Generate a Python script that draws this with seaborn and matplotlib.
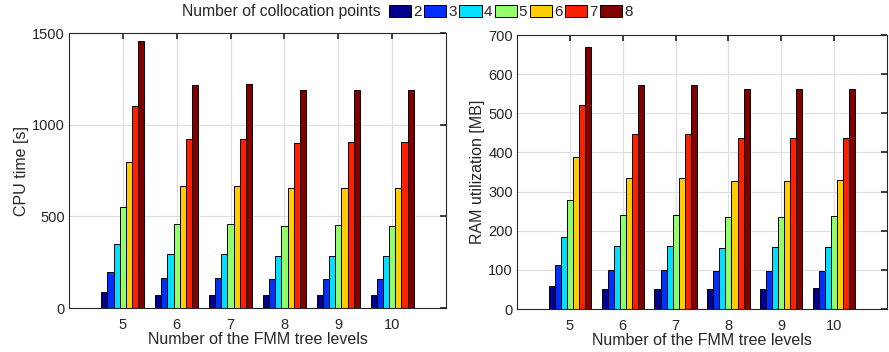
"""
FMM benchmark: CPU time and RAM use vs. number of tree levels,
grouped by number of collocation points.
"""
import numpy as np
import pandas as pd
import matplotlib
matplotlib.use("Agg")
import matplotlib.pyplot as plt
import seaborn as sns

# ── Data ──────────────────────────────────────────────────────────────────────
LEVELS = [5, 6, 7, 8, 9, 10]
POINTS = ["2", "3", "4", "5", "6", "7", "8"]

# rows = collocation points, cols = tree levels
CPU_TIME = [
    [85, 72, 72, 72, 72, 72],
    [194, 161, 161, 158, 158, 160],
    [348, 294, 292, 285, 285, 285],
    [550, 459, 459, 448, 452, 450],
    [798, 667, 668, 653, 653, 653],
    [1101, 920, 920, 898, 904, 905],
    [1457, 1216, 1220, 1190, 1192, 1192],
]
RAM_MB = [
    [59, 52, 52, 51, 51, 53],
    [112, 99, 99, 97, 97, 98],
    [184, 160, 160, 157, 158, 159],
    [279, 239, 240, 235, 236, 237],
    [388, 334, 334, 327, 328, 329],
    [520, 447, 446, 437, 437, 438],
    [670, 573, 573, 562, 562, 563],
]

# jet-like colours, one per collocation point count
COLORS = ["#00008F", "#0030FF", "#00DFFF", "#90FF6A", "#FFCC00", "#FF2000", "#800000"]

# ── Long-form table ───────────────────────────────────────────────────────────
rows = []
for i, p in enumerate(POINTS):
    for j, lvl in enumerate(LEVELS):
        rows.append({"level": lvl, "points": p, "cpu": CPU_TIME[i][j], "ram": RAM_MB[i][j]})
df = pd.DataFrame(rows)

# ── Plot ──────────────────────────────────────────────────────────────────────
sns.set_theme(style="white")
plt.rcParams["font.family"] = ["Liberation Sans", "DejaVu Sans"]
plt.rcParams["axes.edgecolor"] = "#262626"

fig = plt.figure(figsize=(8.89, 3.52), dpi=100)
ax1 = fig.add_axes([0.0776, 0.125, 0.4241, 0.781])
ax2 = fig.add_axes([0.5816, 0.122, 0.4162, 0.7785])


def draw(ax, col, ylabel, ylim, yticks):
    sns.barplot(data=df, x="level", y=col, hue="points", hue_order=POINTS,
                palette=COLORS, saturation=1, native_scale=True, width=0.8,
                errorbar=None, edgecolor="black", linewidth=0.7, ax=ax, legend=True)
    ax.set_xlim(4, 11)
    ax.set_ylim(*ylim)
    ax.set_xticks(LEVELS)
    ax.set_yticks(yticks)
    ax.set_xlabel("Number of the FMM tree levels", fontsize=11.5, labelpad=0)
    ax.set_ylabel(ylabel, fontsize=11.5, labelpad=2)
    ax.tick_params(axis="both", labelsize=10.5, direction="in", length=4,
                   top=True, right=True, pad=3, color="#262626")
    ax.tick_params(axis="x", pad=7)
    ax.grid(True, color="#dedede", linewidth=0.8)
    ax.set_axisbelow(True)
    for s in ax.spines.values():
        s.set_linewidth(0.8)


draw(ax1, "cpu", "CPU time [s]", (0, 1500), [0, 500, 1000, 1500])
draw(ax2, "ram", "RAM utilization [MB]", (0, 700), range(0, 701, 100))

handles, labels = ax1.get_legend_handles_labels()
ax1.get_legend().remove()
ax2.get_legend().remove()

fig.text(381 / 889, 0.966, "Number of collocation points", ha="right", va="center",
         fontsize=11.3)
fig.legend(handles, labels, loc="center left", bbox_to_anchor=(389 / 889, 0.966),
           ncol=7, frameon=False, fontsize=11, handlelength=1.45, handleheight=0.9,
           handletextpad=0.12, columnspacing=0.18, borderpad=0, borderaxespad=0)

fig.savefig("out.png", dpi=100)
plt.close(fig)
